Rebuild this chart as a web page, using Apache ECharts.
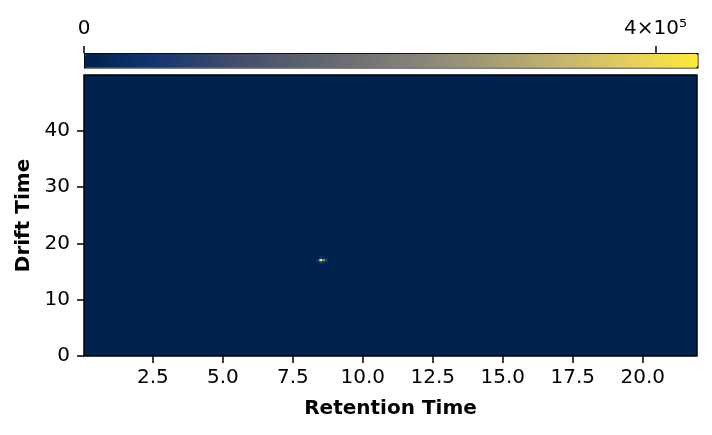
<!DOCTYPE html>
<html>
<head>
<meta charset="utf-8">
<script src="https://cdn.jsdelivr.net/npm/echarts@6/dist/echarts.min.js"></script>
<style>
  html, body { margin: 0; padding: 0; background: #fff; }
  #chart { width: 712px; height: 435px; }
</style>
</head>
<body>
<div id="chart"></div>
<script>
// retention time / drift time of the few non-zero cells, everything else is 0
const cellRt = [8.4, 8.5, 8.6, 8.7, 8.5, 8.6, 8.5, 8.6];
const cellDt = [17.0, 17.0, 17.0, 17.0, 16.55, 16.55, 17.45, 17.45];
const cellIntensity = [60000, 429000, 230000, 70000, 50000, 30000, 50000, 30000];

const xTicks = [2.5, 5.0, 7.5, 10.0, 12.5, 15.0, 17.5, 20.0];
const yTicks = [0, 10, 20, 30, 40];
const cbarTicks = [0, 400000];

const rtMin = 0.04, rtMax = 21.94;
const dtMin = 0, dtMax = 49.9;
const zMax = 429000;
const rtStep = 0.1, dtStep = 0.45;

const cividis = ["#00224e", "#123570", "#3b496c", "#575d6d", "#707173",
  "#8a8779", "#a69d75", "#c4b56c", "#e4cf5b", "#fee838"];

const cells = cellRt.map((rt, i) => [rt, cellDt[i], cellIntensity[i]]);

const font = "DejaVu Sans";
const fs = 20;
const tickStyle = { color: "#000", width: 1.5 };
const chart = echarts.init(document.getElementById("chart"));

chart.setOption({
  animation: false,
  textStyle: { fontFamily: font },
  grid: [
    {
      left: 84, right: 15, top: 75, bottom: 79,
      show: true, backgroundColor: cividis[0],
      borderColor: "#000", borderWidth: 1.5,
    },
    { left: 84, right: 15, top: 53, height: 14, show: false },
  ],
  visualMap: {
    type: "continuous",
    seriesIndex: 0,
    min: 0, max: zMax,
    dimension: 2,
    orient: "horizontal",
    left: 84, top: 53,
    padding: 0,
    itemWidth: 14, itemHeight: 613,
    calculable: false,
    text: ["", ""],
    borderColor: "#000", borderWidth: 1.5,
    inRange: { color: cividis },
  },
  xAxis: [
    {
      type: "value", gridIndex: 0, min: rtMin, max: rtMax,
      name: "Retention Time", nameLocation: "middle", nameGap: 43,
      nameTextStyle: { fontWeight: "bold", fontSize: fs, color: "#000" },
      axisLine: { show: false },
      axisTick: { show: true, length: 7, customValues: xTicks, lineStyle: tickStyle },
      axisLabel: { customValues: xTicks, fontSize: fs, color: "#000", margin: 12,
        formatter: (v) => Number(v).toFixed(1) },
      splitLine: { show: false },
    },
    {
      type: "value", gridIndex: 1, position: "top", min: 0, max: zMax,
      axisLine: { show: false, onZero: false },
      axisTick: { show: true, length: 7, customValues: cbarTicks, lineStyle: tickStyle },
      axisLabel: { customValues: cbarTicks, fontSize: fs, color: "#000", margin: 14,
        formatter: (v) => (v === 0 ? "0" : v / 1e5 + "×10⁵") },
      splitLine: { show: false },
      z: 10,
    },
  ],
  yAxis: [
    {
      type: "value", gridIndex: 0, min: dtMin, max: dtMax,
      name: "Drift Time", nameLocation: "middle", nameGap: 49,
      nameTextStyle: { fontWeight: "bold", fontSize: fs, color: "#000" },
      axisLine: { show: false },
      axisTick: { show: true, length: 7, customValues: yTicks, lineStyle: tickStyle },
      axisLabel: { customValues: yTicks, fontSize: fs, color: "#000", margin: 14 },
      splitLine: { show: false },
    },
    { type: "value", gridIndex: 1, show: false, min: 0, max: 1 },
  ],
  series: [
    {
      type: "custom",
      xAxisIndex: 0, yAxisIndex: 0,
      data: cells,
      renderItem: (params, api) => {
        const p = api.coord([api.value(0) - rtStep / 2, api.value(1) + dtStep / 2]);
        const s = api.size([rtStep, dtStep]);
        return {
          type: "rect",
          shape: { x: p[0], y: p[1], width: s[0], height: s[1] },
          style: { fill: api.visual("color") },
        };
      },
    },
  ],
});
</script>
</body>
</html>
